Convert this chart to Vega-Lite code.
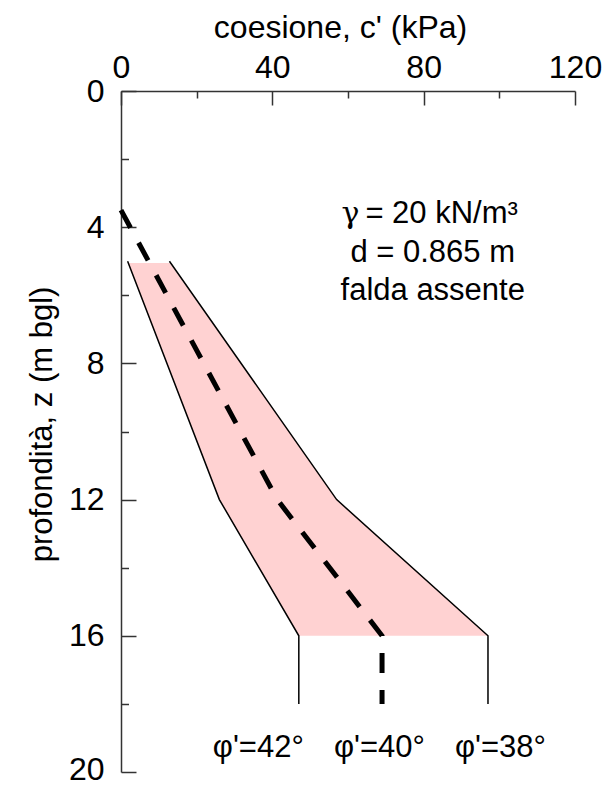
{
  "$schema": "https://vega.github.io/schema/vega-lite/v6.json",
  "width": 454,
  "height": 681,
  "autosize": "none",
  "padding": {"left": 121, "top": 91, "right": 30, "bottom": 15},
  "background": "white",
  "config": {
    "view": {"stroke": null},
    "font": "Liberation Sans",
    "axis": {
      "grid": false,
      "domainColor": "#333",
      "domainWidth": 1.5,
      "tickColor": "#333",
      "tickWidth": 1.5,
      "labelFont": "Liberation Sans",
      "labelFontSize": 32,
      "labelColor": "black",
      "labelFlush": false,
      "labelOverlap": false,
      "titleFont": "Liberation Sans",
      "titleFontWeight": "normal",
      "titleColor": "black"
    }
  },
  "datasets": {
    "solid": [
      {"line": "phi42", "c": 1.75, "z": 5},
      {"line": "phi42", "c": 26, "z": 12},
      {"line": "phi42", "c": 47, "z": 16},
      {"line": "phi42", "c": 47, "z": 18},
      {"line": "phi38", "c": 12.8, "z": 5},
      {"line": "phi38", "c": 57, "z": 12},
      {"line": "phi38", "c": 97, "z": 16},
      {"line": "phi38", "c": 97, "z": 18}
    ],
    "dashed": [
      {"line": "phi40", "c": 0, "z": 3.5},
      {"line": "phi40", "c": 41.3, "z": 12},
      {"line": "phi40", "c": 69, "z": 16},
      {"line": "phi40", "c": 69, "z": 18}
    ],
    "band": [
      {"z": 5.05, "lo": 1.8, "hi": 12.9},
      {"z": 12, "lo": 26, "hi": 57},
      {"z": 16, "lo": 47, "hi": 97}
    ],
    "phiLabels": [
      {"c": 36.3, "z": 19.55, "label": "φ'=42°"},
      {"c": 68.3, "z": 19.55, "label": "φ'=40°"},
      {"c": 100.3, "z": 19.55, "label": "φ'=38°"}
    ],
    "gamma": [
      {"c": 58.3, "z": 3.885, "label": "γ"}
    ],
    "notesLeft": [
      {"c": 64.6, "z": 3.885, "label": "= 20 kN/m³"}
    ],
    "notes": [
      {"c": 82.4, "z": 5.03, "label": "d = 0.865 m"},
      {"c": 82.4, "z": 6.15, "label": "falda assente"}
    ]
  },
  "encoding": {
    "y": {
      "type": "quantitative",
      "scale": {"domain": [0, 20], "reverse": true, "nice": false, "zero": false},
      "axis": {
        "orient": "left",
        "title": "profondità, z (m bgl)",
        "titleFontSize": 31,
        "titleX": -70,
        "titleY": 333,
        "titleAlign": "center",
        "titleBaseline": "alphabetic",
        "titleAngle": -90,
        "values": [0, 2, 4, 6, 8, 10, 12, 14, 16, 18, 20],
        "labelExpr": "datum.value % 4 === 0 ? datum.label : ''",
        "tickSize": {"condition": {"test": "datum.value % 4 === 0", "value": -15}, "value": -7.5},
        "labelOffset": {"condition": {"test": "datum.value === 20", "value": -3}, "value": 0},
        "labelPadding": 32,
        "labelAlign": "right",
        "labelBaseline": "middle"
      }
    },
    "x": {
      "type": "quantitative",
      "scale": {"domain": [0, 120], "nice": false, "zero": false},
      "axis": {
        "orient": "top",
        "title": "coesione, c' (kPa)",
        "titleFontSize": 32,
        "titleX": 219,
        "titleY": -54,
        "titleAlign": "center",
        "titleBaseline": "alphabetic",
        "titleAngle": 0,
        "values": [0, 20, 40, 60, 80, 100, 120],
        "labelExpr": "datum.value % 40 === 0 ? datum.label : ''",
        "tickSize": {"condition": {"test": "datum.value % 40 === 0", "value": -14}, "value": -7},
        "labelPadding": 27.5,
        "labelAlign": "center",
        "labelBaseline": "alphabetic"
      }
    }
  },
  "layer": [
    {
      "data": {"name": "band"},
      "mark": {"type": "area", "orient": "horizontal", "color": "#ffd2d2", "opacity": 1},
      "encoding": {
        "y": {"field": "z", "type": "quantitative"},
        "x": {"field": "lo", "type": "quantitative"},
        "x2": {"field": "hi"}
      }
    },
    {
      "data": {"name": "solid"},
      "mark": {"type": "line", "color": "black", "strokeWidth": 1.5},
      "encoding": {
        "x": {"field": "c", "type": "quantitative"},
        "y": {"field": "z", "type": "quantitative"},
        "detail": {"field": "line"},
        "order": {"field": "z", "type": "quantitative"}
      }
    },
    {
      "data": {"name": "dashed"},
      "mark": {"type": "line", "color": "black", "strokeWidth": 5, "strokeDash": [20, 17]},
      "encoding": {
        "x": {"field": "c", "type": "quantitative"},
        "y": {"field": "z", "type": "quantitative"},
        "order": {"field": "z", "type": "quantitative"}
      }
    },
    {
      "data": {"name": "phiLabels"},
      "mark": {"type": "text", "font": "Liberation Sans", "fontSize": 31, "align": "center", "baseline": "alphabetic", "color": "black"},
      "encoding": {
        "x": {"field": "c", "type": "quantitative"},
        "y": {"field": "z", "type": "quantitative"},
        "text": {"field": "label"}
      }
    },
    {
      "data": {"name": "gamma"},
      "mark": {"type": "text", "font": "DejaVu Serif", "fontSize": 30, "align": "left", "baseline": "alphabetic", "color": "black"},
      "encoding": {
        "x": {"field": "c", "type": "quantitative"},
        "y": {"field": "z", "type": "quantitative"},
        "text": {"field": "label"}
      }
    },
    {
      "data": {"name": "notesLeft"},
      "mark": {"type": "text", "font": "Liberation Sans", "fontSize": 31, "align": "left", "baseline": "alphabetic", "color": "black"},
      "encoding": {
        "x": {"field": "c", "type": "quantitative"},
        "y": {"field": "z", "type": "quantitative"},
        "text": {"field": "label"}
      }
    },
    {
      "data": {"name": "notes"},
      "mark": {"type": "text", "font": "Liberation Sans", "fontSize": 31, "align": "center", "baseline": "alphabetic", "color": "black"},
      "encoding": {
        "x": {"field": "c", "type": "quantitative"},
        "y": {"field": "z", "type": "quantitative"},
        "text": {"field": "label"}
      }
    }
  ]
}
